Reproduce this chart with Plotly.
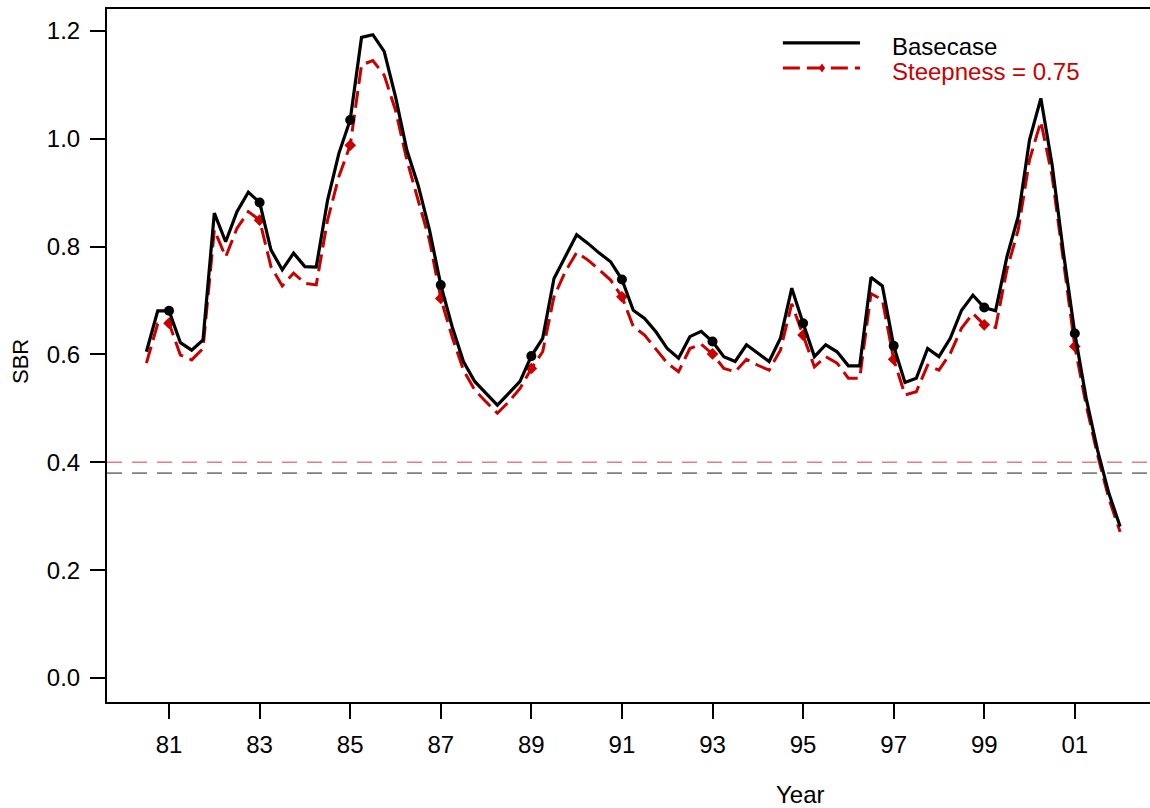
import plotly.graph_objects as go

# quarterly time steps 1980.5 .. 2002.0
years = [1980.5 + 0.25 * i for i in range(87)]

basecase = [
    0.605, 0.681, 0.681, 0.622, 0.608, 0.627, 0.862, 0.809, 0.865, 0.901,
    0.882, 0.794, 0.757, 0.788, 0.763, 0.762, 0.886, 0.973, 1.035, 1.188,
    1.193, 1.162, 1.078, 0.979, 0.914, 0.831, 0.729, 0.652, 0.587, 0.550,
    0.528, 0.506, 0.528, 0.550, 0.597, 0.630, 0.741, 0.781, 0.822, 0.806,
    0.788, 0.772, 0.739, 0.682, 0.667, 0.642, 0.611, 0.593, 0.633, 0.643,
    0.624, 0.596, 0.587, 0.618, 0.603, 0.587, 0.630, 0.723, 0.658, 0.596,
    0.618, 0.605, 0.579, 0.579, 0.743, 0.727, 0.616, 0.548, 0.556, 0.611,
    0.596, 0.630, 0.682, 0.710, 0.687, 0.681, 0.781, 0.856, 0.998, 1.075,
    0.951, 0.788, 0.639, 0.519, 0.423, 0.343, 0.281,
]

steepness = [
    0.584, 0.657, 0.658, 0.599, 0.590, 0.611, 0.831, 0.781, 0.834, 0.865,
    0.849, 0.763, 0.727, 0.751, 0.732, 0.729, 0.849, 0.930, 0.988, 1.137,
    1.145, 1.118, 1.053, 0.961, 0.886, 0.812, 0.704, 0.633, 0.571, 0.534,
    0.512, 0.491, 0.512, 0.537, 0.574, 0.605, 0.707, 0.754, 0.789, 0.775,
    0.757, 0.738, 0.707, 0.652, 0.636, 0.611, 0.584, 0.568, 0.611, 0.619,
    0.601, 0.574, 0.568, 0.591, 0.580, 0.571, 0.608, 0.694, 0.636, 0.577,
    0.596, 0.584, 0.556, 0.556, 0.713, 0.701, 0.591, 0.525, 0.531, 0.580,
    0.571, 0.602, 0.649, 0.676, 0.655, 0.650, 0.757, 0.831, 0.961, 1.032,
    0.930, 0.772, 0.615, 0.506, 0.414, 0.333, 0.271,
]

ref_levels = [0.40, 0.38]
ref_colors = ["#E08080", "#808080"]

tick_years = [1981, 1983, 1985, 1987, 1989, 1991, 1993, 1995, 1997, 1999, 2001]
tick_text = ["81", "83", "85", "87", "89", "91", "93", "95", "97", "99", "01"]

RED = "#C80000"
FONT = "Liberation Sans, Arial, sans-serif"
RED_DASH = "17px,7px"

# markers every second year
mk = [i for i, y in enumerate(years) if y in tick_years]

fig = go.Figure()
for lvl, col in zip(ref_levels, ref_colors):
    fig.add_hline(y=lvl, line=dict(color=col, width=1.6, dash="15px,10px"))

fig.add_trace(go.Scatter(
    x=years, y=steepness, mode="lines",
    line=dict(color=RED, width=3, dash=RED_DASH),
))
fig.add_trace(go.Scatter(
    x=[years[i] for i in mk], y=[steepness[i] for i in mk], mode="markers",
    marker=dict(symbol="diamond", size=9, color=RED),
))
fig.add_trace(go.Scatter(
    x=years, y=basecase, mode="lines",
    line=dict(color="black", width=3.2),
))
fig.add_trace(go.Scatter(
    x=[years[i] for i in mk], y=[basecase[i] for i in mk], mode="markers",
    marker=dict(symbol="circle", size=10, color="black"),
))

# hand-drawn legend (long line samples like the original)
fig.add_shape(type="line", xref="paper", yref="paper",
              x0=0.648, x1=0.722, y0=0.951, y1=0.951,
              line=dict(color="black", width=3.2))
fig.add_shape(type="line", xref="paper", yref="paper",
              x0=0.648, x1=0.722, y0=0.915, y1=0.915,
              line=dict(color=RED, width=3, dash=RED_DASH))
fig.add_shape(type="path", xref="paper", yref="paper",
              path="M 0.6855 0.9215 L 0.6885 0.915 L 0.6855 0.9085 L 0.6825 0.915 Z",
              fillcolor=RED, line=dict(width=0))
fig.add_annotation(x=0.7507, y=0.9466, xref="paper", yref="paper",
                   text="Basecase", showarrow=False,
                   xanchor="left", yanchor="middle",
                   font=dict(color="black", size=24))
fig.add_annotation(x=0.7507, y=0.9105, xref="paper", yref="paper",
                   text="Steepness = 0.75", showarrow=False,
                   xanchor="left", yanchor="middle",
                   font=dict(color=RED, size=24))

# axis titles
fig.add_annotation(x=-0.0834, y=0.4906, xref="paper", yref="paper",
                   text="SBR", showarrow=False, textangle=-90,
                   xanchor="center", yanchor="middle",
                   font=dict(size=22))
fig.add_annotation(x=0.665, y=-0.134, xref="paper", yref="paper",
                   text="Year", showarrow=False,
                   xanchor="center", yanchor="middle",
                   font=dict(size=24))

fig.update_layout(
    width=1150, height=808,
    margin=dict(l=107, r=0, t=9, b=106),
    paper_bgcolor="white", plot_bgcolor="white",
    font=dict(family=FONT, size=24, color="black"),
    showlegend=False,
    xaxis=dict(
        range=[1979.63, 2002.66],
        tickvals=tick_years, ticktext=tick_text,
        ticks="outside", ticklen=15, tickwidth=1.5, tickcolor="black",
        showline=True, linecolor="black", linewidth=2, mirror=True,
        showgrid=False, zeroline=False, ticklabelstandoff=5,
    ),
    yaxis=dict(
        range=[-0.0445, 1.2407],
        tickvals=[0, 0.2, 0.4, 0.6, 0.8, 1.0, 1.2], tickformat=".1f",
        ticks="outside", ticklen=15, tickwidth=1.5, tickcolor="black",
        showline=True, linecolor="black", linewidth=2,
        showgrid=False, zeroline=False, ticklabelstandoff=5,
    ),
)

fig.write_html(
    "out.html",
    config={"displayModeBar": False},
    post_script="document.body.style.margin='0px';"
                "document.body.style.overflow='hidden';",
)
